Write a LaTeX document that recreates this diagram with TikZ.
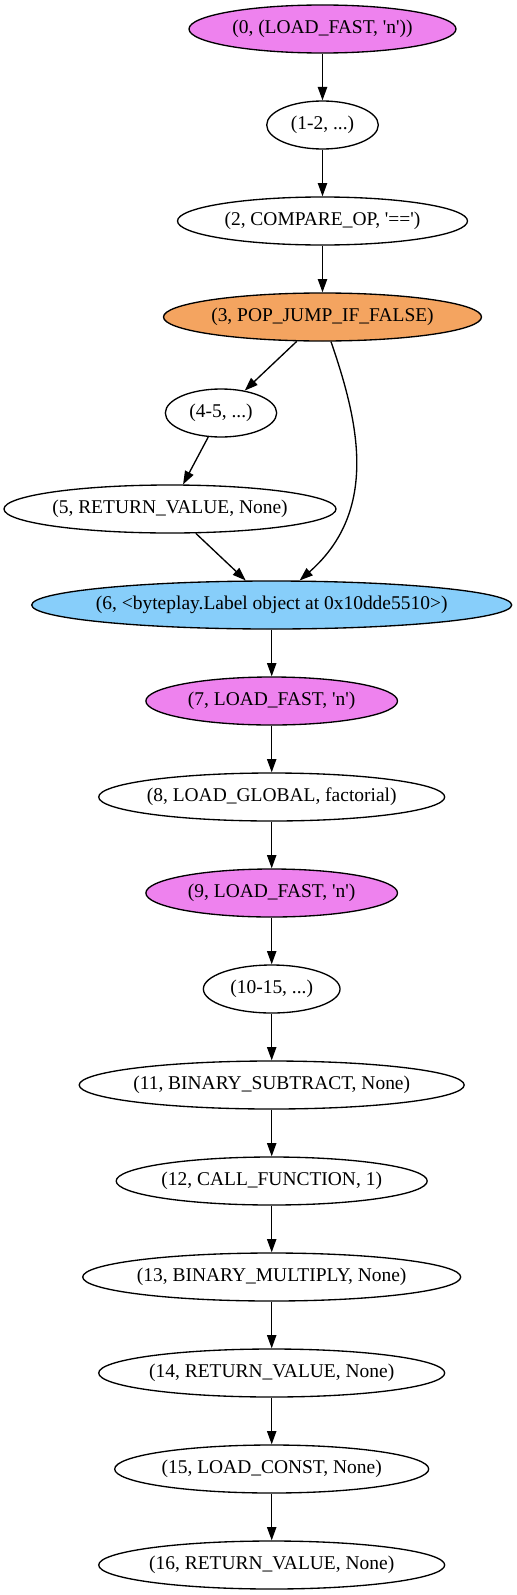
\documentclass[tikz,border=0pt]{standalone}
\usepackage{fontspec}
\setmainfont{Liberation Serif}
\usetikzlibrary{shapes.geometric,arrows.meta}
\definecolor{gviolet}{HTML}{EE82EE}
\definecolor{gsandy}{HTML}{F4A460}
\definecolor{gsky}{HTML}{87CEFA}
\newcommand{\q}{\textquotesingle}
\begin{document}
\begin{tikzpicture}[x=0.75pt,y=-0.75pt,
  gnode/.style={ellipse,draw=black,line width=1pt,inner xsep=-60pt,inner ysep=0pt,minimum height=36pt,font=\fontsize{14.6}{16}\selectfont},
  edge/.style={line width=1pt,-{Triangle[length=10pt,width=7pt]}}]
\useasboundingbox (0,0) rectangle (517,1595);
\node[gnode,fill=gviolet,minimum width=200.25pt] (n0) at (322.5,29) {(0, (LOAD\_FAST, \q n\q))};
\node[gnode,inner xsep=-10pt,minimum width=83.7pt] (n1) at (322.5,125) {(1-2, ...)};
\node[gnode,minimum width=217.5pt] (n2) at (322.5,221) {(2, COMPARE\_OP, \q==\q)};
\node[gnode,fill=gsandy,minimum width=238.5pt] (n3) at (322.5,317) {(3, POP\_JUMP\_IF\_FALSE)};
\node[gnode,inner xsep=-10pt,minimum width=83.5pt] (n4) at (221,413) {(4-5, ...)};
\node[gnode,minimum width=249pt] (n5) at (170,509) {(5, RETURN\_VALUE, None)};
\node[gnode,fill=gsky,minimum width=360pt] (n6) at (271.7,605) {(6, <byteplay.Label object at 0x10dde5510>)};
\node[gnode,fill=gviolet,minimum width=188.7pt] (n7) at (271.7,701) {(7, LOAD\_FAST, \q n\q)};
\node[gnode,minimum width=259.5pt] (n8) at (271.7,797) {(8, LOAD\_GLOBAL, factorial)};
\node[gnode,fill=gviolet,minimum width=188.7pt] (n9) at (271.7,893) {(9, LOAD\_FAST, \q n\q)};
\node[gnode,inner xsep=-10pt,minimum width=102.5pt] (n10) at (271.7,989) {(10-15, ...)};
\node[gnode,minimum width=288.75pt] (n11) at (271.7,1085) {(11, BINARY\_SUBTRACT, None)};
\node[gnode,minimum width=233.25pt] (n12) at (271.7,1181) {(12, CALL\_FUNCTION, 1)};
\node[gnode,minimum width=283.5pt] (n13) at (271.7,1277) {(13, BINARY\_MULTIPLY, None)};
\node[gnode,minimum width=259.5pt] (n14) at (271.7,1373) {(14, RETURN\_VALUE, None)};
\node[gnode,minimum width=235.5pt] (n15) at (271.7,1469) {(15, LOAD\_CONST, None)};
\node[gnode,minimum width=259.5pt] (n16) at (271.7,1565) {(16, RETURN\_VALUE, None)};
\draw[edge] (n0) -- (n1);
\draw[edge] (n1) -- (n2);
\draw[edge] (n2) -- (n3);
\draw[edge] (n3) -- (n4);
\draw[edge] (n3) .. controls (358,420) and (380,510) .. (n6);
\draw[edge] (n4) -- (n5);
\draw[edge] (n5) -- (n6);
\draw[edge] (n6) -- (n7);
\draw[edge] (n7) -- (n8);
\draw[edge] (n8) -- (n9);
\draw[edge] (n9) -- (n10);
\draw[edge] (n10) -- (n11);
\draw[edge] (n11) -- (n12);
\draw[edge] (n12) -- (n13);
\draw[edge] (n13) -- (n14);
\draw[edge] (n14) -- (n15);
\draw[edge] (n15) -- (n16);
\end{tikzpicture}
\end{document}
